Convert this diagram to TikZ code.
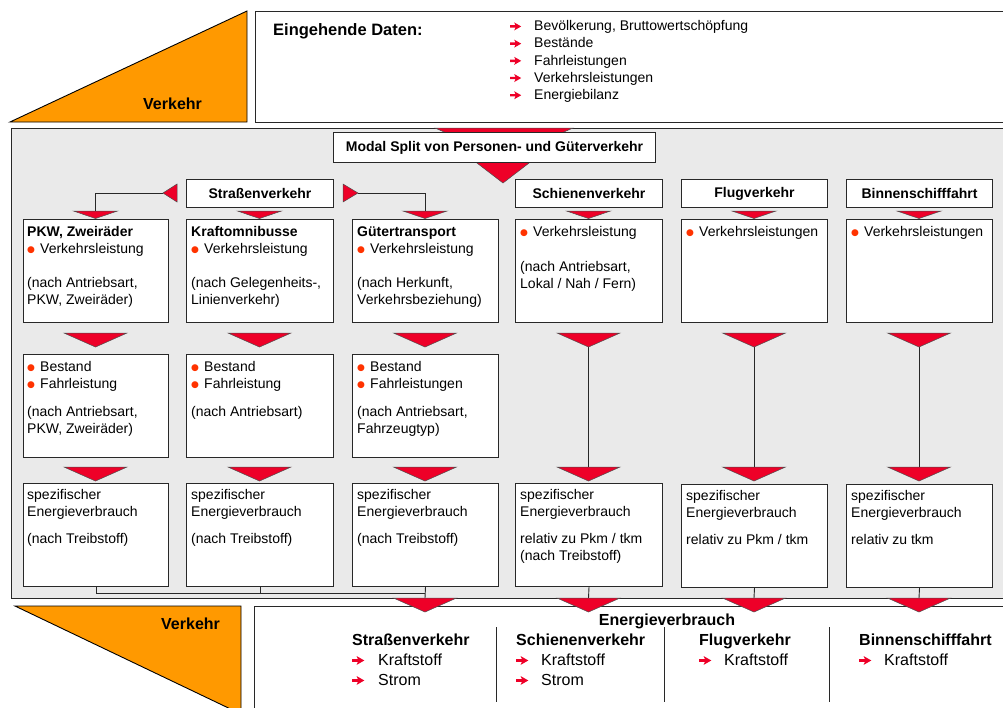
\documentclass[tikz,border=0pt]{standalone}
\usepackage{fontspec}
\setmainfont{Liberation Sans}
\newfontfamily\symfont{DejaVu Sans}
\usetikzlibrary{calc}

\definecolor{orng}{RGB}{255,153,0}
\definecolor{trired}{RGB}{238,0,40}
\definecolor{dotred}{RGB}{255,51,0}
\definecolor{panelgray}{RGB}{234,234,234}
\definecolor{edge}{RGB}{40,40,40}

% bullet dot used in the lists
\newcommand\dotitem{\makebox[13pt][l]{\raisebox{1.2pt}{\textcolor{dotred}{\symfont\fontsize{9}{9}\selectfont ●}}}}
% heavy red arrow: box width, scale
\newcommand\arritem[2]{\makebox[#1][l]{\tikz[baseline=0pt,x=#2pt,y=#2pt]\fill[trired]
  (0,3.1) -- (5.2,3.1) -- (4,0.3) -- (11,4.3) -- (4,8.3) -- (5.2,5.5) -- (0,5.5) -- cycle;}}
% downward red wedge: centre x, top y, half width, height
\newcommand\downtri[4]{\draw[tri] (#1-#3,#2) -- (#1+#3,#2) -- (#1,#2+#4) -- cycle;}

\begin{document}
\begin{tikzpicture}[x=1pt,y=-1pt,
  box/.style={draw=edge,line width=1pt,fill=white,inner sep=0pt,anchor=north west},
  hdr/.style={box,font=\bfseries\fontsize{14}{17}\selectfont,align=center},
  txt/.style={anchor=north west,inner sep=0pt,align=left,font=\fontsize{14}{17}\selectfont},
  btxt/.style={anchor=north west,inner sep=0pt,align=left,font=\fontsize{16}{20}\selectfont},
  tri/.style={fill=trired,draw=black!70,line width=0.5pt,line join=miter},
  conn/.style={draw=edge,line width=0.9pt},
  wedge/.style={fill=orng,draw=black,line width=0.9pt,line join=miter}]

\useasboundingbox (0,0) rectangle (1003,707);
\clip (0,0) rectangle (1003,707);

% ---------- incoming data ----------
\draw[wedge] (10,122) -- (247,11) -- (247,122) -- cycle;
\node[anchor=base west,inner sep=0pt,font=\bfseries\fontsize{16}{19}\selectfont] (vtop) at (143,109) {Verkehr};
\node[box,minimum width=760,minimum height=111] (inbox) at (255,11) {};
\node[anchor=base west,inner sep=0pt,font=\bfseries\fontsize{16.5}{20}\selectfont] (eing) at (273,35) {Eingehende Daten:};
\node[txt,font=\fontsize{14}{17.2}\selectfont] (inlist) at (510,18.5) {\strut\arritem{24pt}{1}Bevölkerung, Bruttowertschöpfung\\
  \arritem{24pt}{1}Bestände\\
  \arritem{24pt}{1}Fahrleistungen\\
  \arritem{24pt}{1}Verkehrsleistungen\\
  \arritem{24pt}{1}Energiebilanz};

% ---------- model panel ----------
\node[box,fill=panelgray,minimum width=1000,minimum height=470] (panel) at (11,128) {};

\draw[tri] (435,128) -- (573,128) -- (504,158) -- cycle;
\draw[tri] (460,150) -- (546,150) -- (503,183) -- cycle;
\node[hdr,minimum width=322,minimum height=30] (modal) at (333,132) {Modal Split von Personen- und Güterverkehr};

% connectors
\coordinate (ltip) at (163,193);
\coordinate (rtip) at (358,193);
\coordinate (st1) at (95.5,211);
\coordinate (st3) at (425,211);
\draw[conn] (ltip) -| (st1);
\draw[conn] (rtip) -| (st3);
\foreach \c/\x in {4/588.5,5/754,6/919}{
  \coordinate (c\c a) at (\x,347);
  \coordinate (c\c b) at (\x,467);
  \draw[conn] (c\c a) -- (c\c b);
}

% headers
\node[hdr,minimum width=147,minimum height=28] (hstr) at (186,179) {Straßenverkehr};
\node[hdr,minimum width=147,minimum height=28] (hsch) at (515,179) {Schienenverkehr};
\node[hdr,minimum width=146,minimum height=28] (hflu) at (681,179) {Flugverkehr};
\node[hdr,minimum width=146,minimum height=28] (hbin) at (846,179) {Binnenschifffahrt};

\draw[tri] (177,184) -- (177,202) -- (ltip) -- cycle;
\draw[tri] (343,184) -- (343,202) -- (rtip) -- cycle;
\foreach \x in {95.5,259.5,425,588.5,754,919}{\downtri{\x}{211}{22}{7.5}}

% row 1
\node[box,minimum width=145,minimum height=103] (a1) at (23,219) {};
\node[box,minimum width=147,minimum height=103] (a2) at (186,219) {};
\node[box,minimum width=146,minimum height=103] (a3) at (352,219) {};
\node[box,minimum width=147,minimum height=103] (a4) at (515,219) {};
\node[box,minimum width=146,minimum height=103] (a5) at (681,219) {};
\node[box,minimum width=146,minimum height=103] (a6) at (846,219) {};
\node[txt] (a1t) at ([shift={(4,5.8)}]a1.north west) {\strut\textbf{PKW, Zweiräder}\\ \dotitem Verkehrsleistung\\[17pt] (nach Antriebsart,\\ PKW, Zweiräder)};
\node[txt] (a2t) at ([shift={(5,5.8)}]a2.north west) {\strut\textbf{Kraftomnibusse}\\ \dotitem Verkehrsleistung\\[17pt] (nach Gelegenheits-,\\ Linienverkehr)};
\node[txt] (a3t) at ([shift={(5,5.8)}]a3.north west) {\strut\textbf{Gütertransport}\\ \dotitem Verkehrsleistung\\[17pt] (nach Herkunft,\\ Verkehrsbeziehung)};
\node[txt] (a4t) at ([shift={(5,5.8)}]a4.north west) {\strut\dotitem Verkehrsleistung\\[18pt] (nach Antriebsart,\\ Lokal / Nah / Fern)};
\node[txt] (a5t) at ([shift={(5,5.8)}]a5.north west) {\strut\dotitem Verkehrsleistungen};
\node[txt] (a6t) at ([shift={(5,5.8)}]a6.north west) {\strut\dotitem Verkehrsleistungen};

\foreach \x in {95.5,259.5,425,588.5,754,919}{\downtri{\x}{333}{31.5}{14}}

% row 2
\node[box,minimum width=145,minimum height=103] (b1) at (23,354) {};
\node[box,minimum width=147,minimum height=103] (b2) at (186,354) {};
\node[box,minimum width=146,minimum height=103] (b3) at (352,354) {};
\node[txt] (b1t) at ([shift={(4,5.6)}]b1.north west) {\strut\dotitem Bestand\\ \dotitem Fahrleistung\\[11pt] (nach Antriebsart,\\ PKW, Zweiräder)};
\node[txt] (b2t) at ([shift={(5,5.6)}]b2.north west) {\strut\dotitem Bestand\\ \dotitem Fahrleistung\\[11pt] (nach Antriebsart)};
\node[txt] (b3t) at ([shift={(5,5.6)}]b3.north west) {\strut\dotitem Bestand\\ \dotitem Fahrleistungen\\[11pt] (nach Antriebsart,\\ Fahrzeugtyp)};

\foreach \x in {95.5,259.5,425,588.5,754,919}{\downtri{\x}{467}{31.5}{14}}

% row 3
\node[box,minimum width=145,minimum height=103] (c1) at (23,483) {};
\node[box,minimum width=147,minimum height=103] (c2) at (186,483) {};
\node[box,minimum width=146,minimum height=103] (c3) at (352,483) {};
\node[box,minimum width=147,minimum height=103] (c4) at (515,483) {};
\node[box,minimum width=146,minimum height=103] (c5) at (681,484) {};
\node[box,minimum width=146,minimum height=103] (c6) at (846,484) {};
\node[txt] (c1t) at ([shift={(4,4.8)}]c1.north west) {\strut spezifischer\\ Energieverbrauch\\[10pt] (nach Treibstoff)};
\node[txt] (c2t) at ([shift={(5,4.8)}]c2.north west) {\strut spezifischer\\ Energieverbrauch\\[10pt] (nach Treibstoff)};
\node[txt] (c3t) at ([shift={(5,4.8)}]c3.north west) {\strut spezifischer\\ Energieverbrauch\\[10pt] (nach Treibstoff)};
\node[txt] (c4t) at ([shift={(5,4.8)}]c4.north west) {\strut spezifischer\\ Energieverbrauch\\[10pt] relativ zu Pkm / tkm\\ (nach Treibstoff)};
\node[txt] (c5t) at ([shift={(5,4.8)}]c5.north west) {\strut spezifischer\\ Energieverbrauch\\[10pt] relativ zu Pkm / tkm};
\node[txt] (c6t) at ([shift={(5,4.8)}]c6.north west) {\strut spezifischer\\ Energieverbrauch\\[10pt] relativ zu tkm};

% collecting lines below row 3
\coordinate (join) at (425,593);
\draw[conn] (c1.south) |- (join);
\draw[conn] (c2.south) -- (c2.south |- join);
\foreach \n/\x in {3/425,4/588.5,5/754,6/919}{
  \coordinate (e\n) at (\x,598);
  \draw[conn] (c\n.south) -- (e\n);
}

% ---------- energy consumption ----------
\draw[wedge] (15,606) -- (241,606) -- (241,714) -- cycle;
\node[anchor=base west,inner sep=0pt,font=\bfseries\fontsize{16}{19}\selectfont] (vbot) at (161,629) {Verkehr};
\node[box,minimum width=760,minimum height=120] (outbox) at (254,606) {};
\foreach \x in {425,588.5,754,919}{\downtri{\x}{598}{31.5}{14}}
\node[anchor=base,inner sep=0pt,font=\bfseries\fontsize{16}{19}\selectfont] (ev) at (667,625) {Energieverbrauch};

\draw[conn] (496,627) -- (496,702);
\draw[conn] (664,627) -- (664,702);
\draw[conn] (829,627) -- (829,702);

\node[btxt] (o1) at (352,631) {\strut\textbf{Straßenverkehr}\\ \arritem{26pt}{1.1}Kraftstoff\\ \arritem{26pt}{1.1}Strom};
\node[btxt] (o2) at (516,631) {\strut\textbf{Schienenverkehr}\\ \arritem{25pt}{1.1}Kraftstoff\\ \arritem{25pt}{1.1}Strom};
\node[btxt] (o3) at (699,631) {\strut\textbf{Flugverkehr}\\ \arritem{25pt}{1.1}Kraftstoff};
\node[btxt] (o4) at (859,631) {\strut\textbf{Binnenschifffahrt}\\ \arritem{25pt}{1.1}Kraftstoff};

\end{tikzpicture}
\end{document}
